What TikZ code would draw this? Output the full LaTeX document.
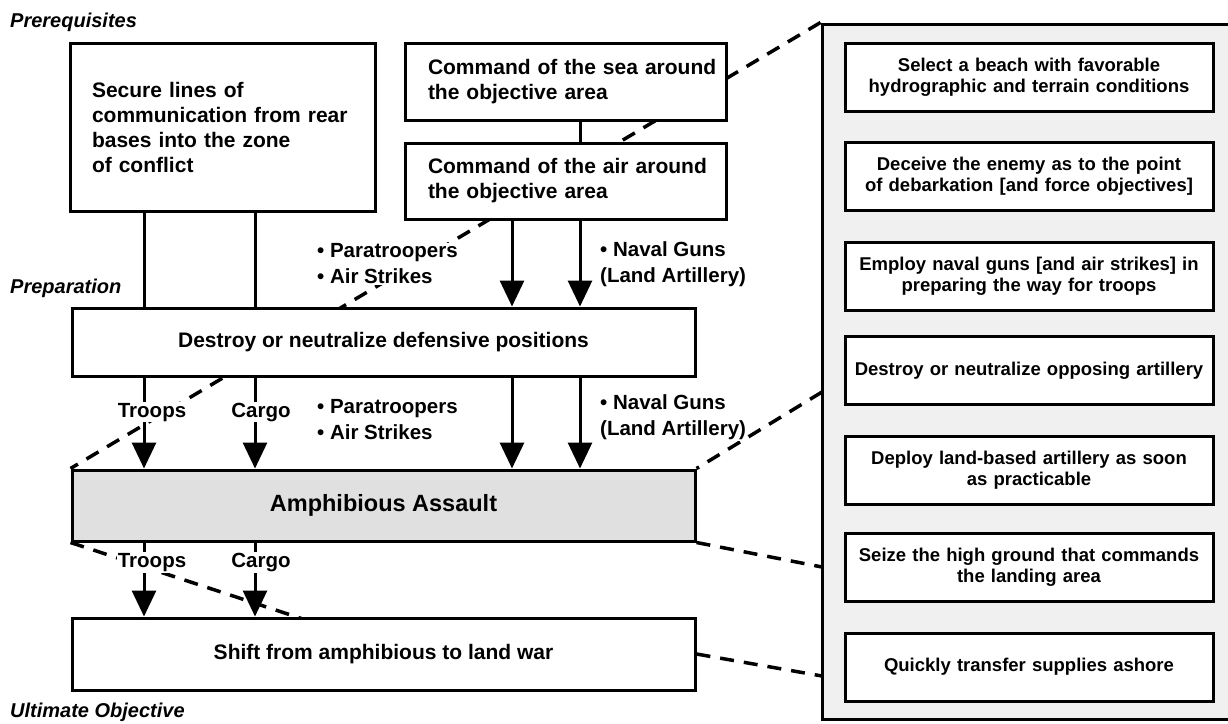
\documentclass[tikz,border=0pt]{standalone}
\usepackage{fontspec}
\setmainfont{Liberation Sans}
\usetikzlibrary{arrows.meta,backgrounds}

\tikzset{
  box/.style={draw,line width=3pt,fill=white,inner sep=0pt,font=\bfseries\fontsize{21}{25}\selectfont},
  stepbox/.style={draw,line width=3pt,fill=white,minimum width=368pt,minimum height=68pt,text width=350pt,align=center,inner sep=0pt,font=\bfseries\fontsize{18.5}{21}\selectfont},
  lbl/.style={fill=white,inner sep=1pt,font=\bfseries\fontsize{20.5}{26}\selectfont},
  stage/.style={anchor=west,inner sep=0pt,font=\bfseries\itshape\fontsize{20}{24}\selectfont},
  flow/.style={line width=3pt,-{Triangle[width=24pt,length=26pt]}},
  link/.style={line width=3pt},
  zoomline/.style={line width=3.5pt,dash pattern=on 14pt off 10pt},
}

\begin{document}
\begin{tikzpicture}[x=1pt,y=-1pt]
\useasboundingbox (0,0) rectangle (1228,723);

\node[stage] (prereq) at (10,22) {Prerequisites};
\node[stage] (prep) at (10,288) {Preparation};
\node[stage] (ultimate) at (10,712) {Ultimate Objective};

\node[box,minimum width=305pt,minimum height=168pt,text width=261pt,align=left] (secure) at (222.5,127) {Secure lines of\\communication from rear\\bases into the zone\\of conflict};
\node[box,minimum width=321pt,minimum height=77pt,text width=275pt,align=left] (sea) at (565.5,81.5) {\mbox{Command of the sea around}\\the objective area};
\node[box,minimum width=321pt,minimum height=76pt,text width=275pt,align=left] (air) at (565.5,181) {\mbox{Command of the air around}\\the objective area};
\node[box,minimum width=623pt,minimum height=68pt] (destroy) at (383.5,342) {Destroy or neutralize defensive positions};
\node[box,minimum width=623pt,minimum height=71pt,fill=black!12,font=\bfseries\fontsize{23.5}{28}\selectfont] (assault) at (383.5,505.5) {Amphibious Assault};
\node[box,minimum width=623pt,minimum height=72pt] (shift) at (383.5,654) {Shift from amphibious to land war};

\node[draw,line width=3pt,fill=black!6,minimum width=410pt,minimum height=695pt,inner sep=0pt] (panel) at (1027,371.5) {};
\node[stepbox] (s1) at (1029,77.5) {Select a beach with favorable\\hydrographic and terrain conditions};
\node[stepbox] (s2) at (1029,176.5) {Deceive the enemy as to the point\\of debarkation [and force objectives]};
\node[stepbox] (s3) at (1029,276) {Employ naval guns [and air strikes] in\\preparing the way for troops};
\node[stepbox] (s4) at (1029,370.5) {Destroy or neutralize opposing artillery};
\node[stepbox] (s5) at (1029,470) {Deploy land-based artillery as soon\\as practicable};
\node[stepbox] (s6) at (1029,567.5) {Seize the high ground that commands\\the landing area};
\node[stepbox] (s7) at (1029,667) {Quickly transfer supplies ashore};

\coordinate (xt) at (144,0);
\coordinate (xc) at (255,0);
\coordinate (xp) at (512,0);
\coordinate (xn) at (580,0);
\coordinate (pB) at (822,392);
\coordinate (pC) at (822,567);
\coordinate (pE) at (822,676);
\coordinate (dEnd) at (306,620);

\draw[link] (secure.south -| xt) -- (destroy.north -| xt);
\draw[link] (secure.south -| xc) -- (destroy.north -| xc);
\draw[link] (sea.south -| xn) -- (air.north -| xn);
\draw[flow] (air.south -| xp) -- (destroy.north -| xp);
\draw[flow] (air.south -| xn) -- (destroy.north -| xn);
\draw[flow] (destroy.south -| xt) -- node[lbl,pos=.38,xshift=8pt] (troops1) {Troops} (assault.north -| xt);
\draw[flow] (destroy.south -| xc) -- node[lbl,pos=.38,xshift=6pt] (cargo1) {Cargo} (assault.north -| xc);
\draw[flow] (destroy.south -| xp) -- (assault.north -| xp);
\draw[flow] (destroy.south -| xn) -- (assault.north -| xn);
\draw[flow] (assault.south -| xt) -- node[lbl,pos=.27,xshift=8pt] (troops2) {Troops} (shift.north -| xt);
\draw[flow] (assault.south -| xc) -- node[lbl,pos=.27,xshift=6pt] (cargo2) {Cargo} (shift.north -| xc);

\node[lbl,align=left,anchor=west] (para1) at (316,264) {\textbullet\ Paratroopers\\\textbullet\ Air Strikes};
\node[lbl,align=left,anchor=west] (naval1) at (599,264) {\textbullet\ Naval Guns\\(Land Artillery)};
\node[lbl,align=left,anchor=west] (para2) at (316,419.5) {\textbullet\ Paratroopers\\\textbullet\ Air Strikes};
\node[lbl,align=left,anchor=west] (naval2) at (599,417) {\textbullet\ Naval Guns\\(Land Artillery)};

\begin{scope}[on background layer]
\draw[zoomline] (panel.north west) -- (assault.north west);
\draw[zoomline] (pB) -- (assault.north east);
\draw[zoomline] (assault.south east) -- (pC);
\draw[zoomline] (assault.south west) -- (dEnd);
\draw[zoomline] (shift.east) -- (pE);
\end{scope}
\end{tikzpicture}
\end{document}
